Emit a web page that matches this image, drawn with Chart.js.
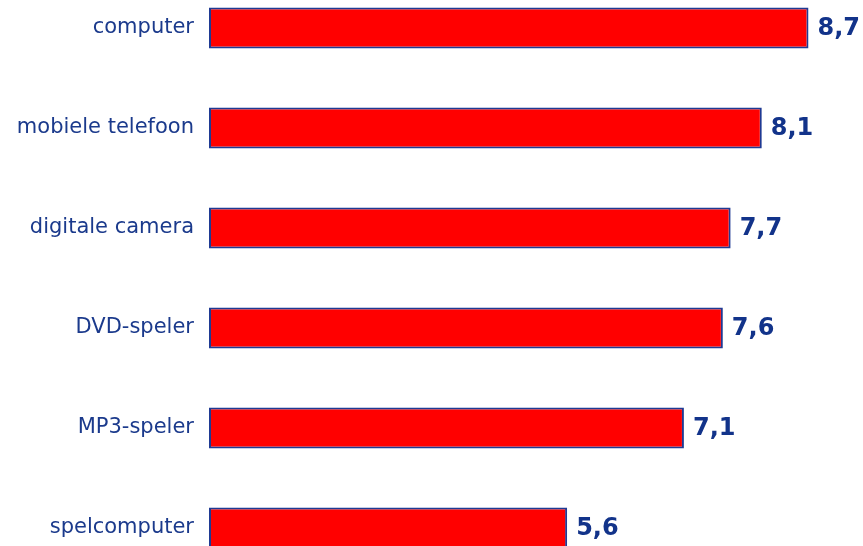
<!DOCTYPE html>
<html>
<head>
<meta charset="utf-8">
<script src="https://cdn.jsdelivr.net/npm/chart.js@4/dist/chart.umd.min.js"></script>
<style>
  html, body { margin: 0; padding: 0; background: #ffffff; overflow: hidden; }
  #c { display: block; }
</style>
</head>
<body>
<canvas id="c" width="863" height="546"></canvas>
<script>
const categories = ["computer", "mobiele telefoon", "digitale camera", "DVD-speler", "MP3-speler", "spelcomputer"];
const values = [8.7, 8.1, 7.7, 7.6, 7.1, 5.6];

const labelColor = "#1b3a8c";
const valueColor = "#12338a";

const valueLabels = {
  id: "valueLabels",
  afterDatasetsDraw(chart) {
    const ctx = chart.ctx;
    const meta = chart.getDatasetMeta(0);
    ctx.save();
    ctx.font = "bold 24px 'DejaVu Sans', Verdana, sans-serif";
    ctx.fillStyle = valueColor;
    ctx.textAlign = "left";
    ctx.textBaseline = "middle";
    meta.data.forEach((bar, i) => {
      const txt = values[i].toFixed(1).replace(".", ",");
      ctx.fillText(txt, bar.x + 9, bar.y + 1);
    });
    ctx.restore();
  }
};

new Chart(document.getElementById("c"), {
  type: "bar",
  data: {
    labels: categories,
    datasets: [{
      data: values,
      base: 1,
      backgroundColor: "#ff0000",
      borderColor: "#1f3a93",
      borderWidth: 2,
      borderSkipped: false,
      barPercentage: 0.41,
      categoryPercentage: 1.0,
      clip: false
    }]
  },
  options: {
    indexAxis: "y",
    responsive: false,
    animation: false,
    layout: { padding: { top: 28, bottom: 18, left: 0, right: 0 } },
    plugins: { legend: { display: false }, tooltip: { enabled: false } },
    scales: {
      x: {
        display: false,
        min: 1,
        max: 9.4
      },
      y: {
        offset: false,
        grid: { display: false, drawTicks: false },
        border: { display: false },
        ticks: {
          padding: 15,
          color: labelColor,
          font: { family: "'DejaVu Sans', Verdana, sans-serif", size: 21 }
        },
        afterFit(scale) {
          scale.width = 209;
          scale.paddingTop = 0;
          scale.paddingBottom = 0;
        }
      }
    }
  },
  plugins: [valueLabels]
});
</script>
</body>
</html>
